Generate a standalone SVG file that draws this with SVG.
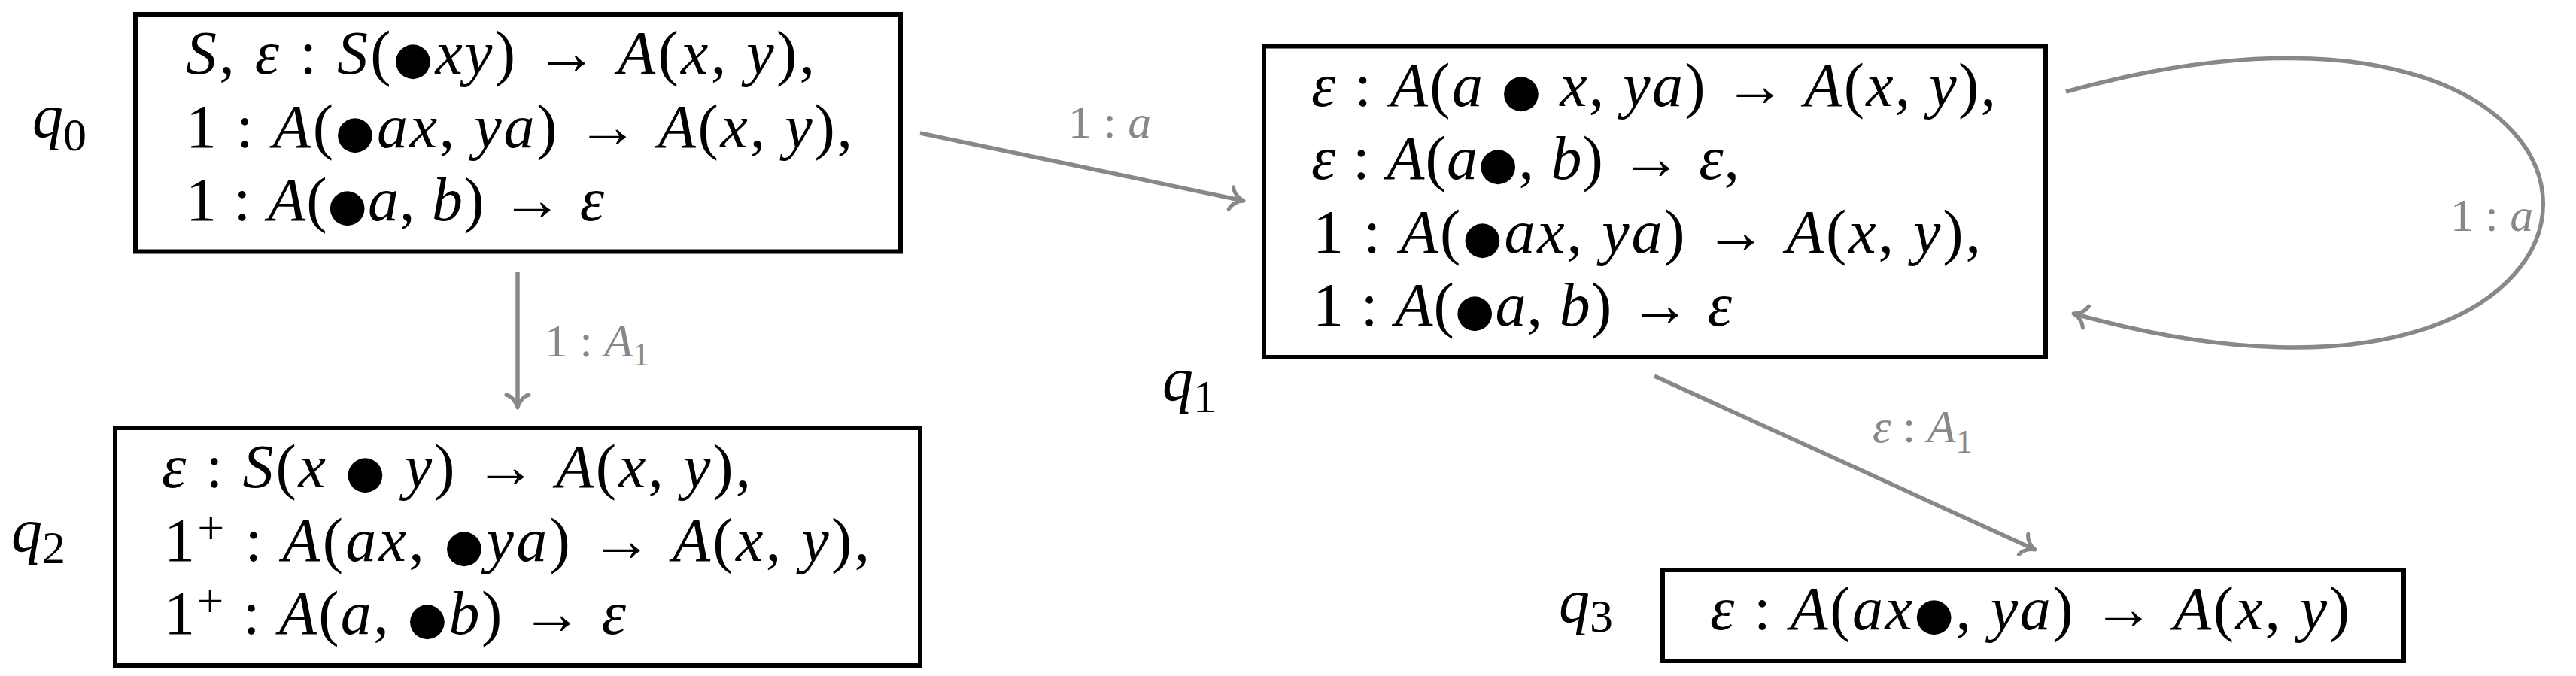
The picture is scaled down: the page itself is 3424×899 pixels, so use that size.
<svg xmlns="http://www.w3.org/2000/svg" width="3424" height="899" viewBox="0 0 3424 899">
<defs>
<style>
.box{fill:none;stroke:#000;stroke-width:6}
.m{font-size:82px;fill:#000}
.i{font-style:italic}
.b{font-size:60px;font-style:normal}
.sup{font-size:64px}
.st{font-size:82px;font-style:italic;fill:#000}
.sub{font-style:normal;font-size:62px}
.edge{fill:none;stroke:#888;stroke-width:5.5;marker-end:url(#to)}
.lbl{font-size:62px;fill:#888}
.lsub{font-size:45px}
</style>
<marker id="to" markerUnits="userSpaceOnUse" markerWidth="50" markerHeight="50" viewBox="-25 -25 50 50" refX="0" refY="0" orient="auto">
<path d="M -17 -15 C -15 -8 -8 -2 0 0 C -8 2 -15 8 -17 15" fill="none" stroke="#888" stroke-width="5" stroke-linecap="round" stroke-linejoin="round"/>
</marker>
</defs>
<rect width="3424" height="899" fill="#fff"/>

<g id="connectors" font-family="Liberation Serif, DejaVu Serif, Noto Serif, serif">
<line class="edge" x1="688" y1="362" x2="688" y2="542"/>
<text class="lbl" x="724" y="474">1 : <tspan class="i">A</tspan><tspan class="lsub" dy="12">1</tspan></text>
<line class="edge" x1="1223" y1="177" x2="1653" y2="267"/>
<text class="lbl" x="1420" y="183">1 : <tspan class="i">a</tspan></text>
<path class="edge" d="M 2746 122 C 3590 -110, 3590 650, 2756 417"/>
<text class="lbl" x="3257" y="307">1 : <tspan class="i">a</tspan></text>
<line class="edge" x1="2199" y1="500" x2="2705" y2="731"/>
<text class="lbl" x="2489" y="588"><tspan class="i">ε</tspan> : <tspan class="i">A</tspan><tspan class="lsub" dy="14">1</tspan></text>
</g>

<g id="q0" font-family="Liberation Serif, DejaVu Serif, Noto Serif, serif">
<rect class="box" x="180" y="19" width="1017" height="315.5"/>
<text class="st" x="43" y="182">q<tspan class="sub" dy="18">0</tspan></text>
<text class="m" x="247" y="98" textLength="836" lengthAdjust="spacing"><tspan class="i">S</tspan>, <tspan class="i">ε</tspan> : <tspan class="i">S</tspan>(<tspan class="b" font-family="DejaVu Sans, sans-serif">●</tspan><tspan class="i">xy</tspan>) → <tspan class="i">A</tspan>(<tspan class="i">x</tspan>, <tspan class="i">y</tspan>),</text>
<text class="m" x="247" y="195.5" textLength="886" lengthAdjust="spacing">1 : <tspan class="i">A</tspan>(<tspan class="b" font-family="DejaVu Sans, sans-serif">●</tspan><tspan class="i">ax</tspan>, <tspan class="i">ya</tspan>) → <tspan class="i">A</tspan>(<tspan class="i">x</tspan>, <tspan class="i">y</tspan>),</text>
<text class="m" x="247" y="293" textLength="556" lengthAdjust="spacing">1 : <tspan class="i">A</tspan>(<tspan class="b" font-family="DejaVu Sans, sans-serif">●</tspan><tspan class="i">a</tspan>, <tspan class="i">b</tspan>) → <tspan class="i">ε</tspan></text>
</g>

<g id="q2" font-family="Liberation Serif, DejaVu Serif, Noto Serif, serif">
<rect class="box" x="153" y="569" width="1070" height="316"/>
<text class="st" x="15" y="733">q<tspan class="sub" dy="16">2</tspan></text>
<text class="m" x="215" y="648" textLength="783" lengthAdjust="spacing"><tspan class="i">ε</tspan> : <tspan class="i">S</tspan>(<tspan class="i">x</tspan> <tspan class="b" font-family="DejaVu Sans, sans-serif">●</tspan> <tspan class="i">y</tspan>) → <tspan class="i">A</tspan>(<tspan class="i">x</tspan>, <tspan class="i">y</tspan>),</text>
<text class="m" x="218" y="745.5" textLength="938" lengthAdjust="spacing">1<tspan class="sup" dy="-22">+</tspan><tspan dy="22"> : </tspan><tspan class="i">A</tspan>(<tspan class="i">ax</tspan>, <tspan class="b" font-family="DejaVu Sans, sans-serif">●</tspan><tspan class="i">ya</tspan>) → <tspan class="i">A</tspan>(<tspan class="i">x</tspan>, <tspan class="i">y</tspan>),</text>
<text class="m" x="218" y="843" textLength="614" lengthAdjust="spacing">1<tspan class="sup" dy="-22">+</tspan><tspan dy="22"> : </tspan><tspan class="i">A</tspan>(<tspan class="i">a</tspan>, <tspan class="b" font-family="DejaVu Sans, sans-serif">●</tspan><tspan class="i">b</tspan>) → <tspan class="i">ε</tspan></text>
</g>

<g id="q1" font-family="Liberation Serif, DejaVu Serif, Noto Serif, serif">
<rect class="box" x="1680" y="61.5" width="1039" height="413.5"/>
<text class="st" x="1545" y="532">q<tspan class="sub" dy="16">1</tspan></text>
<text class="m" x="1743" y="140.5" textLength="910" lengthAdjust="spacing"><tspan class="i">ε</tspan> : <tspan class="i">A</tspan>(<tspan class="i">a</tspan> <tspan class="b" font-family="DejaVu Sans, sans-serif">●</tspan> <tspan class="i">x</tspan>, <tspan class="i">ya</tspan>) → <tspan class="i">A</tspan>(<tspan class="i">x</tspan>, <tspan class="i">y</tspan>),</text>
<text class="m" x="1743" y="238" textLength="569" lengthAdjust="spacing"><tspan class="i">ε</tspan> : <tspan class="i">A</tspan>(<tspan class="i">a</tspan><tspan class="b" font-family="DejaVu Sans, sans-serif">●</tspan>, <tspan class="i">b</tspan>) → <tspan class="i">ε</tspan>,</text>
<text class="m" x="1745" y="335.5" textLength="888" lengthAdjust="spacing">1 : <tspan class="i">A</tspan>(<tspan class="b" font-family="DejaVu Sans, sans-serif">●</tspan><tspan class="i">ax</tspan>, <tspan class="i">ya</tspan>) → <tspan class="i">A</tspan>(<tspan class="i">x</tspan>, <tspan class="i">y</tspan>),</text>
<text class="m" x="1745" y="433" textLength="557" lengthAdjust="spacing">1 : <tspan class="i">A</tspan>(<tspan class="b" font-family="DejaVu Sans, sans-serif">●</tspan><tspan class="i">a</tspan>, <tspan class="i">b</tspan>) → <tspan class="i">ε</tspan></text>
</g>

<g id="q3" font-family="Liberation Serif, DejaVu Serif, Noto Serif, serif">
<rect class="box" x="2210" y="758" width="985" height="121"/>
<text class="st" x="2072" y="827">q<tspan class="sub" dy="13">3</tspan></text>
<text class="m" x="2273" y="837" textLength="850" lengthAdjust="spacing"><tspan class="i">ε</tspan> : <tspan class="i">A</tspan>(<tspan class="i">ax</tspan><tspan class="b" font-family="DejaVu Sans, sans-serif">●</tspan>, <tspan class="i">ya</tspan>) → <tspan class="i">A</tspan>(<tspan class="i">x</tspan>, <tspan class="i">y</tspan>)</text>
</g>
</svg>
